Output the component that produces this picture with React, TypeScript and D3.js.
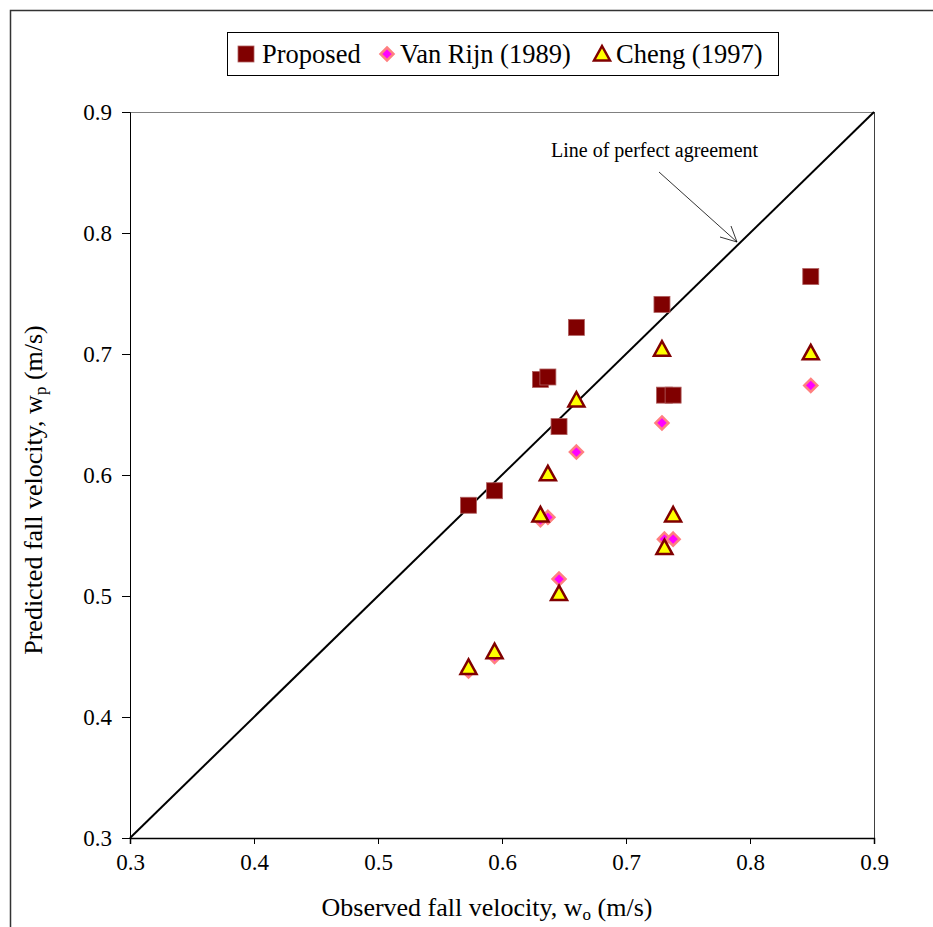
import React, { useEffect, useRef } from 'react';
import * as d3 from 'd3';

// observed fall velocity (m/s)
const observed = [0.573, 0.594, 0.631, 0.637, 0.646, 0.660, 0.729, 0.731, 0.738, 0.849];
// predicted fall velocity (m/s)
const proposed = [0.575, 0.587, 0.679, 0.681, 0.640, 0.722, 0.741, 0.666, 0.666, 0.764];
const vanRijn = [0.438, 0.450, 0.563, 0.565, 0.514, 0.619, 0.643, 0.547, 0.547, 0.674];
const cheng = [0.441, 0.454, 0.567, 0.601, 0.502, 0.662, 0.704, 0.540, 0.567, 0.701];

const ticks = [0.3, 0.4, 0.5, 0.6, 0.7, 0.8, 0.9];
const legendLabels = ['Proposed', 'Van Rijn (1989)', 'Cheng (1997)'];

const FONT = 'Liberation Serif, Times New Roman, serif';

const App: React.FC = () => {
    const svgRef = useRef<SVGSVGElement>(null);

    useEffect(() => {
        if (!svgRef.current) return;
        const svg = d3.select(svgRef.current);
        svg.selectAll('*').remove();

        const left = 130, right = 874, top = 112, bottom = 838;
        const x = d3.scaleLinear().domain([0.3, 0.9]).range([left, right]);
        const y = d3.scaleLinear().domain([0.3, 0.9]).range([bottom, top]);

        // outer frame (cropped on right/bottom)
        svg.append('rect')
            .attr('x', 10.5).attr('y', 10.5)
            .attr('width', 1000).attr('height', 1000)
            .style('fill', 'none').style('stroke', '#333').style('stroke-width', 1.5);

        // plot area border (top/right)
        svg.append('line')
            .attr('x1', left).attr('x2', right).attr('y1', top + 0.5).attr('y2', top + 0.5)
            .style('stroke', '#808080').style('stroke-width', 1);
        svg.append('line')
            .attr('x1', right + 0.5).attr('x2', right + 0.5).attr('y1', top).attr('y2', bottom)
            .style('stroke', '#404040').style('stroke-width', 1);

        // axes
        const xAxis = d3.axisBottom(x).tickValues(ticks).tickSize(6).tickPadding(10)
            .tickFormat(d3.format('.1f'));
        const gx = svg.append('g').attr('transform', `translate(0,${bottom})`).call(xAxis)
            .attr('font-family', FONT).attr('font-size', 23);
        gx.select('.domain').style('stroke', '#000').style('stroke-width', 1.5);
        gx.selectAll('.tick line').style('stroke', '#000');
        gx.selectAll('.tick text').attr('fill', '#000');

        const yAxis = d3.axisLeft(y).tickValues(ticks).tickSize(8).tickPadding(10)
            .tickFormat(d3.format('.1f'));
        const gy = svg.append('g').attr('transform', `translate(${left},0)`).call(yAxis)
            .attr('font-family', FONT).attr('font-size', 23);
        gy.select('.domain').style('stroke', '#000').style('stroke-width', 1);
        gy.selectAll('.tick line').style('stroke', '#000');
        gy.selectAll('.tick text').attr('fill', '#000');

        // line of perfect agreement
        svg.append('line')
            .attr('x1', x(0.3)).attr('y1', y(0.3)).attr('x2', x(0.9)).attr('y2', y(0.9))
            .style('stroke', '#000').style('stroke-width', 2);

        // annotation
        svg.append('text')
            .attr('x', 551).attr('y', 157)
            .attr('font-family', FONT).attr('font-size', 20)
            .text('Line of perfect agreement');
        svg.append('line')
            .attr('x1', 659).attr('y1', 172).attr('x2', 737).attr('y2', 242)
            .style('stroke', '#000').style('stroke-width', 0.8);
        svg.append('path')
            .attr('d', 'M731,226 L737,242 L720,237')
            .style('fill', 'none').style('stroke', '#000').style('stroke-width', 0.8);

        // markers
        const square = (g: any, cx: number, cy: number) =>
            g.append('rect').attr('x', cx - 8).attr('y', cy - 8).attr('width', 16).attr('height', 16)
                .style('fill', '#800000').style('stroke', '#b06060').style('stroke-width', 0.8);
        const diamond = (g: any, cx: number, cy: number) =>
            g.append('path').attr('d', `M${cx},${cy - 6.5}L${cx + 6.5},${cy}L${cx},${cy + 6.5}L${cx - 6.5},${cy}Z`)
                .style('fill', '#ff00ff').style('stroke', '#ff8080').style('stroke-width', 2.5);
        const triangle = (g: any, cx: number, cy: number) =>
            g.append('path').attr('d', `M${cx},${cy - 8}L${cx + 8},${cy + 6.5}L${cx - 8},${cy + 6.5}Z`)
                .style('fill', '#ffff00').style('stroke', '#800000').style('stroke-width', 2.5)
                .style('stroke-linejoin', 'miter');

        const pts = svg.append('g');
        observed.forEach((o, i) => square(pts, x(o), y(proposed[i])));
        observed.forEach((o, i) => diamond(pts, x(o), y(vanRijn[i])));
        observed.forEach((o, i) => triangle(pts, x(o), y(cheng[i])));

        // legend
        const lg = svg.append('g');
        lg.append('rect').attr('x', 227.5).attr('y', 32.5).attr('width', 551).attr('height', 43)
            .style('fill', '#fff').style('stroke', '#000').style('stroke-width', 1);
        const markerX = [246, 387, 602];
        const textX = [262, 400, 616];
        square(lg, markerX[0], 54);
        diamond(lg, markerX[1], 54);
        triangle(lg, markerX[2], 54);
        legendLabels.forEach((l, i) => {
            lg.append('text').attr('x', textX[i]).attr('y', 63)
                .attr('font-family', FONT).attr('font-size', 26.5).text(l);
        });

        // axis titles
        const xt = svg.append('text').attr('x', 487).attr('y', 916)
            .attr('text-anchor', 'middle')
            .attr('font-family', FONT).attr('font-size', 26);
        xt.append('tspan').text('Observed fall velocity, w');
        xt.append('tspan').attr('dy', 4).attr('font-size', 17).text('o');
        xt.append('tspan').attr('dy', -4).text(' (m/s)');

        const yt = svg.append('text')
            .attr('transform', `translate(42,490) rotate(-90)`)
            .attr('text-anchor', 'middle')
            .attr('font-family', FONT).attr('font-size', 26);
        yt.append('tspan').text('Predicted fall velocity, w');
        yt.append('tspan').attr('dy', 4).attr('font-size', 17).text('p');
        yt.append('tspan').attr('dy', -4).text(' (m/s)');
    }, []);

    return (
        <svg ref={svgRef} width={933} height={927}
            style={{ position: 'absolute', left: 0, top: 0, background: '#fff' }} />
    );
};

export default App;
